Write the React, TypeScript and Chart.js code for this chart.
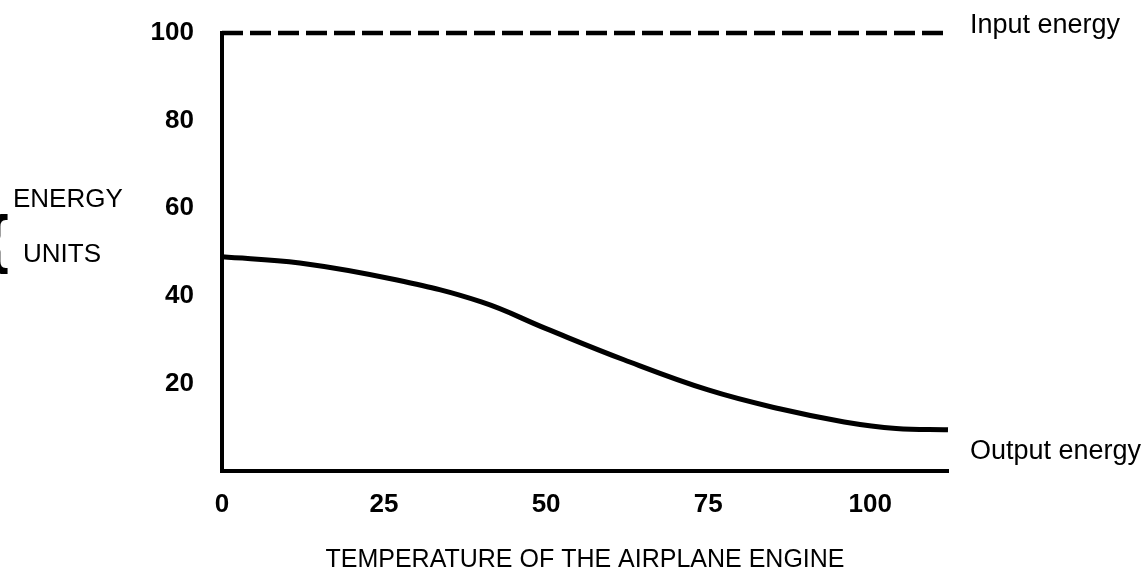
import React, { useEffect, useRef } from "react";
import { Chart, registerables } from "chart.js";

Chart.register(...registerables);

// ---- data ----
const temperature = [0, 12, 27, 40, 50, 62, 75, 86, 96, 104, 112];
const outputEnergy = [48.9, 47.5, 43.6, 38.6, 32.5, 25.4, 18.5, 14.2, 11.2, 9.7, 9.4];
const inputTemperature = [0, 112];
const inputEnergy = [100, 100];
const xTickValues = [0, 25, 50, 75, 100];
const yTickValues = [20, 40, 60, 80, 100];
const xTitle = "TEMPERATURE OF THE AIRPLANE ENGINE";
const yTitleLines = ["ENERGY", "UNITS"];
const inputLabel = "Input energy";
const outputLabel = "Output energy";

const FONT = "'Liberation Sans', Arial, Helvetica, sans-serif";

const annotations = {
  id: "annotations",
  afterDraw(chart: any) {
    const { ctx, chartArea, scales } = chart;
    const y = scales.y;
    ctx.save();
    ctx.fillStyle = "#000";
    ctx.textBaseline = "middle";
    ctx.textAlign = "left";
    ctx.font = `27px ${FONT}`;
    ctx.fillText(inputLabel, chartArea.right + 22, y.getPixelForValue(100) - 7);
    ctx.fillText(outputLabel, chartArea.right + 22, y.getPixelForValue(0) - 19);
    ctx.font = `26px ${FONT}`;
    ctx.fillText(yTitleLines[0], 13, 200);
    ctx.fillText(yTitleLines[1], 23, 255);
    ctx.font = `bold 64px ${FONT}`;
    ctx.textAlign = "right";
    ctx.fillText("{", 9, 243);
    ctx.restore();
  },
};

export default function App() {
  const ref = useRef<HTMLCanvasElement | null>(null);

  useEffect(() => {
    document.body.style.margin = "0";
    const canvas = ref.current;
    if (!canvas) return;
    const chart = new Chart(canvas, {
      type: "line",
      data: {
        datasets: [
          {
            label: outputLabel,
            data: temperature.map((t, i) => ({ x: t, y: outputEnergy[i] })),
            borderColor: "#000",
            borderWidth: 5,
            pointRadius: 0,
            tension: 0.4,
            fill: false,
            clip: false as any,
          },
          {
            label: inputLabel,
            data: inputTemperature.map((t, i) => ({ x: t, y: inputEnergy[i] })),
            borderColor: "#000",
            borderWidth: 4.5,
            borderDash: [21, 7],
            pointRadius: 0,
            fill: false,
            clip: false as any,
          },
        ],
      },
      options: {
        responsive: false,
        animation: false,
        layout: { padding: { left: 0, right: 197, top: 33, bottom: 0 } },
        plugins: { legend: { display: false }, tooltip: { enabled: false }, title: { display: false } },
        scales: {
          x: {
            type: "linear",
            min: 0,
            max: 112,
            grid: { display: false, drawTicks: false },
            border: { display: true, color: "#000", width: 4 },
            afterBuildTicks: (s: any) => {
              s.ticks = xTickValues.map((v) => ({ value: v }));
            },
            afterFit: (s: any) => {
              s.height = 117;
              s.paddingLeft = 0;
              s.paddingRight = 0;
            },
            ticks: {
              color: "#000",
              padding: 18,
              maxRotation: 0,
              font: { family: FONT, size: 26, weight: "bold" },
              callback: (v: any) => String(v),
            },
            title: {
              display: true,
              text: xTitle,
              color: "#000",
              font: { family: FONT, size: 25 },
              padding: { top: 0, bottom: 13 },
            },
          },
          y: {
            type: "linear",
            min: 0,
            max: 100,
            grid: { display: false, drawTicks: false },
            border: { display: true, color: "#000", width: 4 },
            afterBuildTicks: (s: any) => {
              s.ticks = yTickValues.map((v) => ({ value: v }));
            },
            afterFit: (s: any) => {
              s.width = 222;
              s.paddingTop = 0;
              s.paddingBottom = 0;
            },
            ticks: {
              color: "#000",
              padding: 28,
              font: { family: FONT, size: 26, weight: "bold" },
              callback: (v: any) => String(v),
            },
          },
        },
      } as any,
      plugins: [annotations],
    });
    return () => chart.destroy();
  }, []);

  return (
    <div style={{ position: "absolute", left: 0, top: 0, width: 1145, height: 588, background: "#fff" }}>
      <canvas ref={ref} width={1145} height={588} />
    </div>
  );
}
